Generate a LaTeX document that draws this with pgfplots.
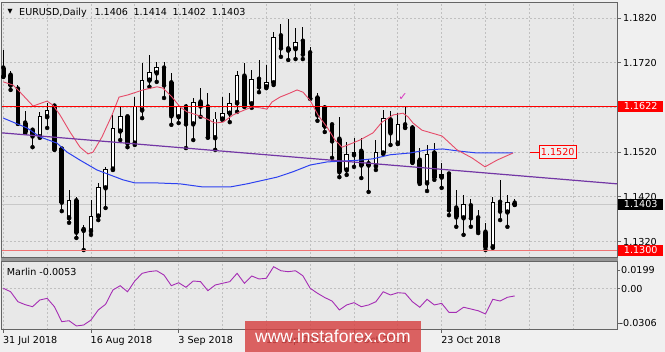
\documentclass[border=0pt]{standalone}
\usepackage{fontspec}
\setmainfont{DejaVu Sans}
\newfontfamily\wmfont{Liberation Sans}
\usepackage{pgfplots}
\usepackage{pgfplotstable}
\pgfplotsset{compat=1.18}
\definecolor{bgout}{RGB}{240,240,240}
\definecolor{bgplot}{RGB}{232,232,232}
\definecolor{gridc}{RGB}{192,192,192}
\definecolor{framec}{RGB}{100,100,100}
\definecolor{maPink}{RGB}{230,75,105}
\definecolor{maBlue}{RGB}{45,65,240}
\definecolor{trendc}{RGB}{115,55,165}
\definecolor{marlinc}{RGB}{165,45,180}
\definecolor{salmon}{RGB}{240,115,115}
\definecolor{pricegray}{RGB}{200,200,200}
\definecolor{wmred}{RGB}{214,66,66}
\definecolor{chkc}{RGB}{215,50,190}
\definecolor{sepc}{RGB}{150,150,150}

\pgfplotstableread{
i O H L C
0 1.1708 1.1748 1.1688 1.1690
1 1.1692 1.1701 1.1659 1.1670
2 1.1661 1.1670 1.1583 1.1585
3 1.1585 1.1612 1.1563 1.1565
4 1.1569 1.1572 1.1531 1.1556
5 1.1554 1.1610 1.1552 1.1599
6 1.1599 1.1630 1.1574 1.1614
7 1.1623 1.1625 1.1525 1.1527
8 1.1527 1.1529 1.1388 1.1408
9 1.1373 1.1435 1.1362 1.1411
10 1.1411 1.1420 1.1328 1.1341
11 1.1347 1.1357 1.1301 1.1345
12 1.1344 1.1413 1.1335 1.1375
13 1.1377 1.1451 1.1368 1.1440
14 1.1440 1.1487 1.1395 1.1482
15 1.1482 1.1603 1.1480 1.1572
16 1.1567 1.1621 1.1547 1.1599
17 1.1599 1.1603 1.1531 1.1540
18 1.1540 1.1643 1.1536 1.1621
19 1.1614 1.1719 1.1596 1.1681
20 1.1681 1.1737 1.1666 1.1697
21 1.1697 1.1722 1.1677 1.1710
22 1.1708 1.1722 1.1641 1.1670
23 1.1675 1.1697 1.1581 1.1601
24 1.1599 1.1625 1.1585 1.1621
25 1.1621 1.1628 1.1529 1.1583
26 1.1583 1.1641 1.1547 1.1630
27 1.1632 1.1663 1.1599 1.1623
28 1.1621 1.1652 1.1552 1.1554
29 1.1552 1.1610 1.1525 1.1594
30 1.1594 1.1643 1.1592 1.1607
31 1.1607 1.1652 1.1587 1.1628
32 1.1630 1.1701 1.1610 1.1692
33 1.1690 1.1719 1.1621 1.1625
34 1.1628 1.1704 1.1619 1.1683
35 1.1683 1.1726 1.1654 1.1666
36 1.1666 1.1715 1.1663 1.1675
37 1.1675 1.1789 1.1670 1.1777
38 1.1780 1.1806 1.1733 1.1753
39 1.1751 1.1818 1.1726 1.1748
40 1.1751 1.1798 1.1728 1.1766
41 1.1768 1.1800 1.1728 1.1739
42 1.1742 1.1755 1.1639 1.1641
43 1.1641 1.1652 1.1590 1.1603
44 1.1619 1.1625 1.1565 1.1578
45 1.1581 1.1583 1.1507 1.1545
46 1.1549 1.1599 1.1464 1.1476
47 1.1480 1.1543 1.1469 1.1514
48 1.1514 1.1552 1.1487 1.1520
49 1.1522 1.1552 1.1462 1.1491
50 1.1494 1.1505 1.1431 1.1491
51 1.1489 1.1547 1.1480 1.1518
52 1.1518 1.1614 1.1516 1.1596
53 1.1592 1.1612 1.1536 1.1563
54 1.1540 1.1607 1.1538 1.1581
55 1.1581 1.1621 1.1574 1.1576
56 1.1574 1.1581 1.1496 1.1498
57 1.1502 1.1529 1.1449 1.1451
58 1.1451 1.1536 1.1433 1.1514
59 1.1518 1.1540 1.1458 1.1464
60 1.1464 1.1496 1.1440 1.1471
61 1.1471 1.1473 1.1379 1.1391
62 1.1395 1.1435 1.1353 1.1375
63 1.1373 1.1424 1.1335 1.1402
64 1.1400 1.1415 1.1353 1.1373
65 1.1373 1.1391 1.1339 1.1344
66 1.1341 1.1362 1.1301 1.1308
67 1.1308 1.1420 1.1306 1.1408
68 1.1408 1.1458 1.1368 1.1388
69 1.1386 1.1424 1.1353 1.1408
70 1.1406 1.1414 1.1402 1.1403
}\candles

\pgfplotsset{
  mtaxis/.style={scale only axis, width=615pt, xmin=-0.18, xmax=84,
    axis background/.style={fill=bgplot},
    axis line style={framec, line width=1pt},
    clip mode=individual, scaled ticks=false,
    grid style={gridc, dash pattern=on 2pt off 2pt, line width=0.7pt},
    minor grid style={gridc, dash pattern=on 2pt off 2pt, line width=0.7pt},
    every tick label/.append style={font=\fontsize{9.6}{11}\selectfont},
    tick align=outside, ytick pos=right, xtick pos=bottom}
}

\begin{document}
\begin{tikzpicture}
\fill[bgout] (0,0) rectangle (665pt,-352pt);
\useasboundingbox (0,0) rectangle (665pt,-352pt);

\begin{axis}[mtaxis, at={(2pt,-3pt)}, anchor=north west, height=255pt,
  ymin=1.12832, ymax=1.18534,
  xtick={0,6,...,84}, xticklabels={}, xmajorgrids, xtick style={draw=none},
  ytick={1.1320,1.1420,1.1520,1.1620,1.1720,1.1820},
  yticklabels={1.1320,1.1420,1.1520,1.1620,1.1720,1.1820},
  ymajorgrids, ytick style={framec, line width=0.8pt}, major tick length=4pt,
  yticklabel style={anchor=west, inner sep=0pt, xshift=2pt}]
\addplot[pricegray, line width=0.8pt] coordinates {(-0.18,1.1403) (84,1.1403)};
% wicks
\addplot[only marks, mark=none, error bars/.cd, y dir=plus, y explicit, error mark=none,
  error bar style={draw=black, line width=0.9pt, solid}]
  table[x=i, y=L, y error expr=\thisrow{H}-\thisrow{L}] {\candles};
% candle bodies (outline)
\addplot[only marks, mark=none, error bars/.cd, y dir=plus, y explicit, error mark=none,
  error bar style={draw=black, line width=4.6pt, solid}]
  table[x=i, y expr={min(\thisrow{O},\thisrow{C})-0.00011}, y error expr={abs(\thisrow{C}-\thisrow{O})+0.00022}] {\candles};
% white interiors of rising candles
\addplot[only marks, mark=none, error bars/.cd, y dir=plus, y explicit, error mark=none,
  error bar style={draw=white, line width=2.6pt, solid}]
  table[x=i, y expr={\thisrow{O}+0.00011}, y error expr={max(\thisrow{C}-\thisrow{O}-0.00022,0)}] {\candles};
% moving averages and trend line
\addplot[maBlue, line width=1pt] coordinates {(0,1.1596) (3.24,1.1574) (5.02,1.1554) (7.35,1.1540) (8.72,1.1520) (10.5,1.1502) (12.82,1.1480) (14.6,1.1469) (16.38,1.1458) (18.03,1.1451) (21.04,1.1451) (24.19,1.1449) (27.33,1.1442) (31.03,1.1442) (33.36,1.1449) (35.82,1.1458) (37.46,1.1464) (39.65,1.1476) (41.98,1.1491) (44.31,1.1498) (46.5,1.1500) (48.82,1.1502) (50.6,1.1505) (52.93,1.1514) (55.67,1.1518) (57.99,1.1525) (60.18,1.1527) (62.51,1.1522) (64.84,1.1518) (69.77,1.1518)};
\addplot[maPink, line width=0.9pt] coordinates {(0,1.1677) (1.33,1.1670) (2.01,1.1659) (4.07,1.1623) (5.98,1.1634) (6.8,1.1625) (7.76,1.1603) (9.13,1.1565) (10.5,1.1531) (11.59,1.1516) (12.28,1.1520) (13.51,1.1554) (14.88,1.1603) (15.84,1.1643) (17.07,1.1648) (19.12,1.1659) (21.04,1.1666) (21.86,1.1663) (23.09,1.1643) (24.19,1.1621) (25.14,1.1610) (26.51,1.1603) (27.88,1.1594) (28.98,1.1585) (30.07,1.1587) (31.44,1.1603) (32.4,1.1610) (34.04,1.1621) (35.14,1.1619) (36.09,1.1616) (36.78,1.1632) (37.87,1.1643) (39.24,1.1652) (40.2,1.1659) (41.02,1.1654) (41.98,1.1636) (43.07,1.1603) (44.31,1.1576) (45.4,1.1547) (46.36,1.1531) (47.18,1.1536) (48.82,1.1547) (50.6,1.1563) (51.83,1.1587) (53.34,1.1603) (54.71,1.1607) (55.39,1.1599) (56.08,1.1585) (57.31,1.1569) (60.05,1.1556) (62.1,1.1525) (64.15,1.1507) (65.93,1.1487) (67.57,1.1502) (69.77,1.1518)};
\addplot[trendc, line width=1.2pt] coordinates {(-0.18,1.1563) (84,1.1449)};
\addplot[red, line width=0.9pt] coordinates {(-0.18,1.1622) (84,1.1622)};
\addplot[salmon, line width=1.8pt] coordinates {(-0.18,1.1300) (84,1.1300)};
\addplot[red, line width=0.8pt] coordinates {(72.1,1.1520) (73.3,1.1520)};
\coordinate (R1622) at (axis cs:84,1.1622);
\coordinate (R1403) at (axis cs:84,1.1403);
\coordinate (R1300) at (axis cs:84,1.1300);
\coordinate (M1520) at (axis cs:73.3,1.1520);
\coordinate (CHK) at (axis cs:54.7,1.1643);
\end{axis}

\fill[sepc] (1pt,-258pt) rectangle (618pt,-262pt);

\begin{axis}[mtaxis, at={(2pt,-262pt)}, anchor=north west, height=68pt,
  ymin=-0.0306, ymax=0.0199,
  xtick={0,12,24,36,48,60},
  xticklabels={31 Jul 2018,16 Aug 2018,3 Sep 2018,19 Sep 2018,5 Oct 2018,23 Oct 2018},
  xmajorgrids, minor xtick={6,18,30,42,54,66,72,78,84}, xminorgrids,
  major tick length=3pt, minor tick length=0pt,
  xtick style={framec, line width=0.8pt},
  xticklabel style={anchor=north west, inner sep=0pt, yshift=-3pt, xshift=-0.5pt},
  ytick={0}, yticklabels={}, ymajorgrids, ytick style={framec, line width=0.8pt}]
\addplot[marlinc, line width=0.9pt] coordinates {(0,0.0004) (1,-0.0022) (2,-0.0096) (3,-0.0118) (4,-0.0133) (5,-0.0083) (6,-0.0071) (7,-0.0133) (8,-0.0244) (9,-0.0237) (10,-0.0276) (11,-0.0269) (12,-0.0232) (13,-0.0157) (14,-0.0115) (15,-0.0009) (16,0.0023) (17,-0.0022) (18,0.0058) (19,0.0115) (20,0.0128) (21,0.0134) (22,0.0102) (23,0.0023) (24,0.0045) (25,0.0011) (26,0.0058) (27,0.0053) (28,-0.0014) (29,0.0028) (30,0.0041) (31,0.0053) (32,0.0115) (33,0.0041) (34,0.0095) (35,0.0073) (36,0.0078) (37,0.0164) (38,0.0134) (39,0.0127) (40,0.0134) (41,0.0097) (42,0.0004) (43,-0.0033) (44,-0.0065) (45,-0.0091) (46,-0.0157) (47,-0.0120) (48,-0.0103) (49,-0.0133) (50,-0.0120) (51,-0.0096) (52,-0.0022) (53,-0.0046) (54,-0.0029) (55,-0.0033) (56,-0.0096) (57,-0.0137) (58,-0.0078) (59,-0.0120) (60,-0.0108) (61,-0.0175) (62,-0.0175) (63,-0.0137) (64,-0.0150) (65,-0.0163) (66,-0.0187) (67,-0.0078) (68,-0.0091) (69,-0.0063) (70,-0.0053)};
\end{axis}

% header and panel texts
\node[anchor=center, inner sep=0pt, font=\fontsize{6.5}{7}\selectfont] at (10pt,-11.5pt) {▼};
\begin{scope}[every node/.style={anchor=base west, inner sep=0pt, font=\fontsize{9.6}{11}\selectfont}]
\node at (19pt,-15.7pt) {EURUSD,Daily};
\node at (94.3pt,-15.7pt) {1.1406};
\node at (133.3pt,-15.7pt) {1.1414};
\node at (172.3pt,-15.7pt) {1.1402};
\node at (211.7pt,-15.7pt) {1.1403};
\node at (6.7pt,-275.7pt) {Marlin -0.0053};
\end{scope}
\begin{scope}[every node/.style={anchor=west, inner sep=0pt, font=\fontsize{9.6}{11}\selectfont}]
\node at (621pt,-270pt) {0.0199};
\node at (621pt,-289pt) {0.00};
\node at (619.5pt,-323pt) {-0.0306};
\end{scope}
\draw[framec, line width=0.8pt] (617pt,-270pt) -- (620pt,-270pt) (617pt,-323pt) -- (620pt,-323pt);

% price boxes
\begin{scope}[every node/.style={anchor=west, inner sep=0pt, minimum width=45pt, minimum height=11.5pt, text=white, font=\fontsize{9.6}{11}\selectfont}]
\node[fill=red] at ([xshift=1pt]R1622) {1.1622};
\node[fill=black] at ([xshift=1pt]R1403) {1.1403};
\node[fill=red] at ([xshift=1pt]R1300) {1.1300};
\end{scope}
\node[anchor=west, draw=red, line width=0.8pt, fill=bgout, text=red, inner sep=0pt, minimum width=37pt, minimum height=13pt, font=\fontsize{9.6}{11}\selectfont] at (M1520) {1.1520};
\node[text=chkc, inner sep=0pt, font=\fontsize{11}{12}\selectfont] at (CHK) {✓};

% watermark
\fill[wmred, fill opacity=0.82] (245pt,-321pt) rectangle (421pt,-352pt);
\node[text=white, inner sep=0pt, font=\wmfont\fontsize{17.5}{19}\selectfont] at (333pt,-336.5pt) {www.instaforex.com};
\end{tikzpicture}
\end{document}
